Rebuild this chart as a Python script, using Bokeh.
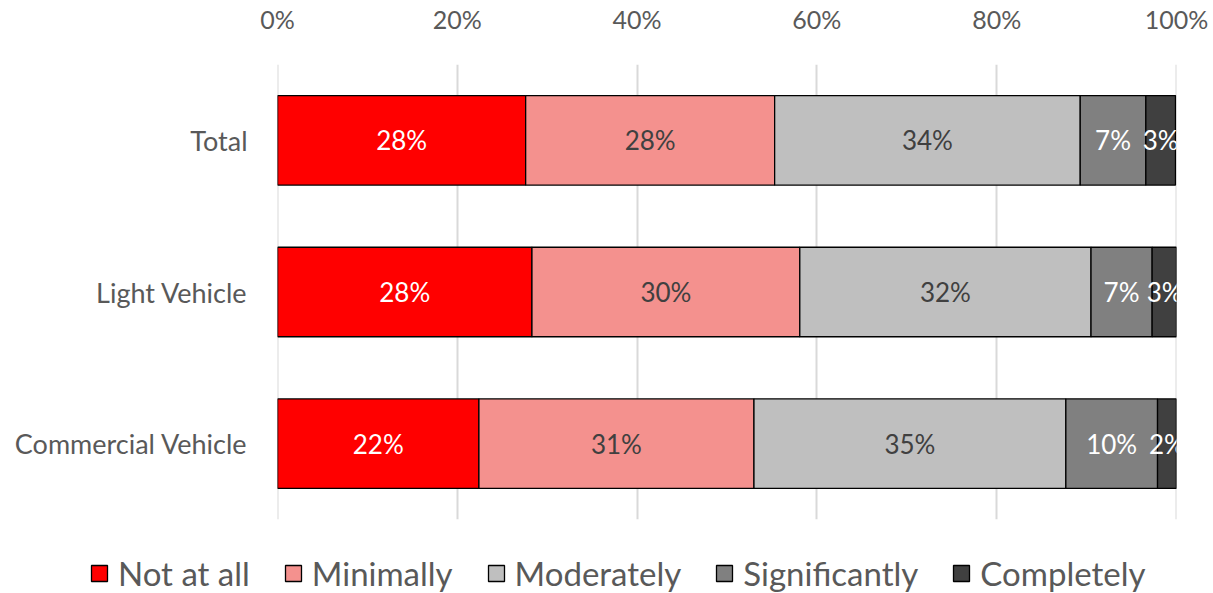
import numpy as np
from bokeh.plotting import figure
from bokeh.layouts import column
from bokeh.models import ColumnDataSource, Legend, LegendItem, FixedTicker, CustomJSTickFormatter
from bokeh.core.properties import value
from bokeh.embed import file_html
from bokeh.resources import INLINE

categories = ["Total", "Light Vehicle", "Commercial Vehicle"]
series = ["Not at all", "Minimally", "Moderately", "Significantly", "Completely"]
not_at_all = [27.6, 28.3, 22.4]
minimally = [27.7, 29.8, 30.6]
moderately = [34.0, 32.4, 34.7]
significantly = [7.3, 6.8, 10.2]
completely = [3.3, 2.8, 2.1]
tick_values = [0, 20, 40, 60, 80, 100]

colors = ["#FF0000", "#F4918E", "#BFBFBF", "#808080", "#404040"]
label_colors = ["#FFFFFF", "#404040", "#404040", "#FFFFFF", "#FFFFFF"]
FONT = "Lato"
TXT = "#595959"

data = [not_at_all, minimally, moderately, significantly, completely]

p = figure(width=1213, height=529, y_range=list(reversed(categories)), x_range=(-0.01, 100.01),
           output_backend="svg", toolbar_location=None, x_axis_location="above",
           min_border_left=277, min_border_right=37, min_border_top=63, min_border_bottom=10)
p.outline_line_color = None

left = np.zeros(len(categories))
for name, vals, c, lc in zip(series, data, colors, label_colors):
    vals = np.array(vals)
    src = ColumnDataSource(dict(y=categories, left=left, right=left + vals,
                                xc=left + vals / 2, lab=[f"{round(v):.0f}%" for v in vals]))
    p.hbar(y="y", left="left", right="right", height=0.59, source=src,
           fill_color=c, line_color="#000000", line_width=1.3)
    p.text(x="xc", y="y", text="lab", source=src, text_align="center", text_baseline="middle",
           text_color=lc, text_font=value(FONT), text_font_size="26px")
    left = left + vals

p.xaxis.ticker = FixedTicker(ticks=tick_values)
p.xaxis.formatter = CustomJSTickFormatter(code="return tick.toFixed(0) + '%';")
for ax in [p.xaxis[0], p.yaxis[0]]:
    ax.axis_line_color = None
    ax.major_tick_line_color = None
    ax.minor_tick_line_color = None
    ax.major_label_text_font = FONT
    ax.major_label_text_color = TXT
p.xaxis.major_label_text_font_size = "25px"
p.yaxis.major_label_text_font_size = "27px"
p.xaxis.major_label_standoff = 25
p.yaxis.major_label_standoff = 24

p.xgrid.ticker = FixedTicker(ticks=tick_values)
p.xgrid.grid_line_color = "#D9D9D9"
p.xgrid.grid_line_width = 2
p.ygrid.grid_line_color = None

# legend strip (proxy renderers sit outside the visible range; only their legend swatches show)
lg = figure(width=1213, height=64, x_range=(0, 1), y_range=(0, 1), output_backend="svg",
            toolbar_location=None, min_border=0, outline_line_color=None)
lg.axis.visible = False
lg.grid.visible = False
try:
    lg.frame_align = False
    p.frame_align = False
except Exception:
    pass
items = []
for name, c in zip(series, colors):
    r = lg.quad(left=[-3], right=[-2], top=[-2], bottom=[-3], fill_color=c,
                line_color="#000000", line_width=1.3)
    items.append(LegendItem(label=name, renderers=[r]))
legend = Legend(items=items, orientation="horizontal", location=(89, 0),
                label_text_font=FONT, label_text_color=TXT, label_text_font_size="33px",
                glyph_width=20, glyph_height=20, label_standoff=9, spacing=33,
                border_line_color=None, background_fill_alpha=0, padding=0, margin=0)
lg.add_layout(legend, "center")

open("out.html", "w").write(file_html(column(p, lg, spacing=0), INLINE))
